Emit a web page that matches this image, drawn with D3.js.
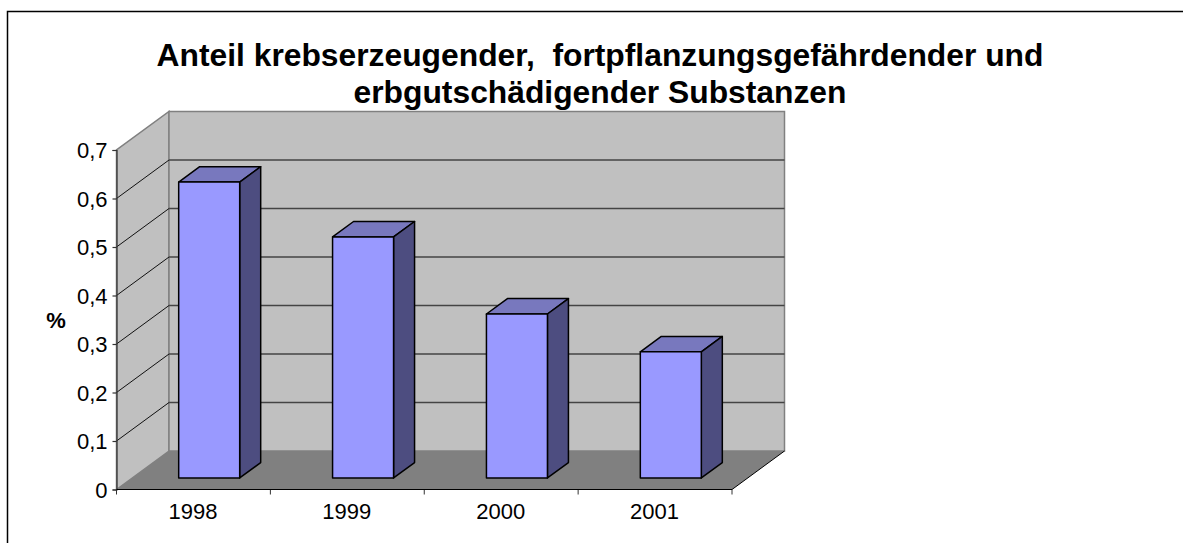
<!DOCTYPE html>
<html>
<head>
<meta charset="utf-8">
<script src="https://cdn.jsdelivr.net/npm/d3@7.9.0/dist/d3.min.js"></script>
<style>
  html, body { margin: 0; padding: 0; background: #fff; }
  svg { display: block; }
  text { font-family: "Liberation Sans", Arial, sans-serif; fill: #000; }
</style>
</head>
<body>
<svg id="chart" width="1183" height="543"></svg>
<script>
const years = ['1998', '1999', '2000', '2001'];
const shares = [0.61, 0.497, 0.338, 0.26];
const yTicks = [0, 0.1, 0.2, 0.3, 0.4, 0.5, 0.6, 0.7];
const titleLines = ['Anteil krebserzeugender,  fortpflanzungsgefährdender und', 'erbgutschädigender Substanzen'];

const svg = d3.select('#chart');

// front plane of the 3d box
const x = d3.scaleBand().domain(years).range([116.5, 732]);
const y = d3.scaleLinear().domain([0, 0.7]).range([489.5, 150]);

// depth offset of the back wall
const depthX = 52.5;
const depthY = -38.5;
// bars sit between these fractions of the depth
const barFront = 0.3;
const barBack = 0.7;
const barWidth = 61;

const [x0, x1] = x.range();
const y0 = y(0);
const yTop = y(0.7);

function poly(points) {
    return d3.line()(points) + 'Z';
}

// frame: only left and top edges are in the picture
svg.append('path')
    .attr('d', d3.line()([[7.5, 543], [7.5, 11.5], [1183, 11.5]]))
    .attr('fill', 'none').attr('stroke', '#000').attr('stroke-width', 1.5);

// left wall
svg.append('path')
    .attr('d', poly([[x0, y0], [x0 + depthX, y0 + depthY], [x0 + depthX, yTop + depthY], [x0, yTop]]))
    .attr('fill', '#c0c0c0').attr('stroke', '#808080').attr('stroke-width', 1.5);
// back wall
svg.append('rect')
    .attr('x', x0 + depthX).attr('y', yTop + depthY)
    .attr('width', x1 - x0).attr('height', y0 - yTop)
    .attr('fill', '#c0c0c0').attr('stroke', '#808080').attr('stroke-width', 1.5);
// floor
svg.append('path')
    .attr('d', poly([[x0, y0], [x1, y0], [x1 + depthX, y0 + depthY], [x0 + depthX, y0 + depthY]]))
    .attr('fill', '#808080');
svg.append('line')
    .attr('x1', x1).attr('y1', y0)
    .attr('x2', x1 + depthX).attr('y2', y0 + depthY)
    .attr('stroke', '#000');

// gridlines, wall part is thin and dark, back part heavier and greyer
const gridTicks = yTicks.filter((d) => d > 0 && d < 0.7);
svg.append('g').selectAll('line')
    .data(gridTicks)
    .join('line')
    .attr('x1', x0).attr('y1', (d) => y(d))
    .attr('x2', x0 + depthX).attr('y2', (d) => y(d) + depthY)
    .attr('stroke', '#111');
svg.append('g').selectAll('line')
    .data(gridTicks)
    .join('line')
    .attr('x1', x0 + depthX).attr('y1', (d) => y(d) + depthY)
    .attr('x2', x1 + depthX).attr('y2', (d) => y(d) + depthY)
    .attr('stroke', '#444')
    .attr('stroke-width', 1.5);

// bars
const bars = svg.append('g').selectAll('g')
    .data(years.map((year, i) => ({ year, value: shares[i] })))
    .join('g');

function barBox(d) {
    const left = x(d.year) + x.bandwidth() / 2 - barWidth / 2 + depthX * barFront;
    const right = left + barWidth;
    const bottom = y0 + depthY * barFront;
    const top = bottom - (y0 - y(d.value));
    const dx = depthX * (barBack - barFront);
    const dy = depthY * (barBack - barFront);
    return { left, right, bottom, top, dx, dy };
}

bars.append('path')
    .attr('d', (d) => {
        const b = barBox(d);
        return poly([[b.left, b.top], [b.right, b.top], [b.right + b.dx, b.top + b.dy], [b.left + b.dx, b.top + b.dy]]);
    })
    .attr('fill', '#7878be').attr('stroke', '#000').attr('stroke-width', 1.5).attr('stroke-linejoin', 'round');
bars.append('path')
    .attr('d', (d) => {
        const b = barBox(d);
        return poly([[b.right, b.top], [b.right + b.dx, b.top + b.dy], [b.right + b.dx, b.bottom + b.dy], [b.right, b.bottom]]);
    })
    .attr('fill', '#4d4d80').attr('stroke', '#000').attr('stroke-width', 1.5).attr('stroke-linejoin', 'round');
bars.append('path')
    .attr('d', (d) => {
        const b = barBox(d);
        return poly([[b.left, b.top], [b.right, b.top], [b.right, b.bottom], [b.left, b.bottom]]);
    })
    .attr('fill', '#9999ff').attr('stroke', '#000').attr('stroke-width', 1.5).attr('stroke-linejoin', 'round');

// axes
const yAxis = d3.axisLeft(y)
    .tickValues(yTicks)
    .tickSize(4)
    .tickPadding(5)
    .tickFormat((d) => String(d).replace('.', ','));
const gy = svg.append('g')
    .attr('transform', `translate(${x0},0)`)
    .call(yAxis);
gy.selectAll('text').style('font-size', '22px').attr('dy', '0.35em');
gy.selectAll('path, line').attr('stroke', '#333').attr('stroke-width', 1.2);

const xAxis = d3.axisBottom(x).tickSize(0).tickPadding(14);
const gx = svg.append('g')
    .attr('transform', `translate(0,${y0})`)
    .call(xAxis);
gx.select('.domain').remove();
gx.selectAll('text').style('font-size', '22px').attr('dx', '-0.5');
gx.append('g').selectAll('line')
    .data(d3.range(years.length + 1))
    .join('line')
    .attr('x1', (i) => x0 + i * x.step())
    .attr('x2', (i) => x0 + i * x.step())
    .attr('y1', 0).attr('y2', 5)
    .attr('stroke', '#333');
gx.append('line')
    .attr('x1', x0).attr('x2', x1)
    .attr('y1', 0).attr('y2', 0)
    .attr('stroke', '#000').attr('stroke-width', 1.2);

// title
svg.append('g').selectAll('text')
    .data(titleLines)
    .join('text')
    .attr('x', 600)
    .attr('y', (d, i) => 66 + i * 37)
    .attr('text-anchor', 'middle')
    .style('white-space', 'pre')
    .style('font-size', '31.8px')
    .style('font-weight', 'bold')
    .text((d) => d);

// y label
svg.append('text')
    .attr('x', 56)
    .attr('y', 328)
    .attr('text-anchor', 'middle')
    .style('font-size', '22px')
    .style('font-weight', 'bold')
    .text('%');
</script>
</body>
</html>
